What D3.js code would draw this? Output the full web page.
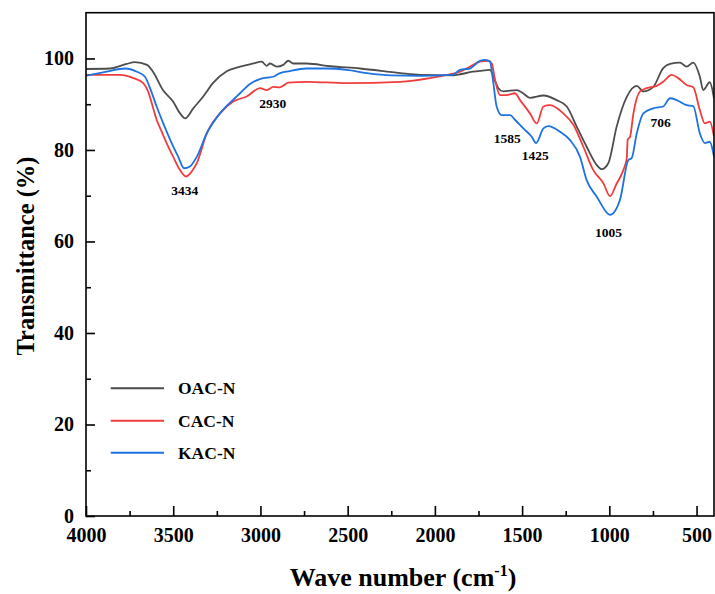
<!DOCTYPE html>
<html><head><meta charset="utf-8">
<script src="https://cdn.jsdelivr.net/npm/d3@7"></script>
<style>
html,body{margin:0;padding:0;background:#fff;}
svg{display:block;}
text{font-family:"Liberation Serif","Times New Roman",serif;font-weight:bold;fill:#000;}
</style></head>
<body><svg id="chart" width="715" height="594"></svg>
<script>
// ---------- data ----------
const seriesNames = ["OAC-N", "CAC-N", "KAC-N"];
const seriesColors = ["#4d4d4d", "#f23c3c", "#1c72e0"];

const oacWave = [4000,3862,3767,3720,3650,3616,3559,3501,3461,3432,3385,3328,3270,3193,3117,3043,2993,2964,2945,2907,2869,2840,2812,2735,2600,2429,2200,2085,1900,1875,1782,1741,1684,1665,1636,1608,1531,1495,1455,1378,1302,1244,1187,1130,1072,1044,1006,958,900,843,805,748,691,652,595,557,519,481,462,424,400];
const oacT    = [97.7,97.8,98.8,99.2,98.6,97.1,93.1,90.6,88.0,86.9,89.1,91.7,94.7,97.2,98.2,98.9,99.3,98.4,98.9,98.2,98.6,99.5,98.9,98.9,98.3,97.8,96.8,96.4,96.3,96.4,97.1,97.3,97.5,96.0,93.5,92.8,93.1,92.4,91.4,91.9,90.9,89.5,85.1,80.7,76.7,75.8,77.1,85.1,91.6,94.0,92.8,93.8,97.9,98.8,99.1,98.2,99.1,96.0,93.1,94.8,91.3];

const cacWave = [4000,3805,3729,3672,3643,3623,3595,3566,3528,3500,3461,3427,3394,3365,3308,3232,3156,3079,3003,2964,2926,2888,2840,2735,2506,2200,2028,1932,1856,1799,1741,1694,1674,1655,1627,1588,1541,1512,1455,1416,1378,1340,1264,1206,1149,1092,1034,996,960,920,900,895,881,862,824,786,729,691,643,605,557,519,481,452,424,400];
const cacT    = [96.4,96.4,95.7,94.6,92.7,90.2,86.6,84.0,80.7,78.5,75.6,74.2,75.3,77.1,83.6,88.0,90.6,91.7,93.5,93.1,93.8,93.7,94.7,94.9,94.6,94.9,95.7,96.4,97.1,98.2,99.3,99.5,98.9,95.3,92.0,92.0,92.4,90.9,88.0,85.8,89.5,89.8,88.0,85.5,80.7,75.6,72.7,69.9,72.5,75.6,78.2,82.2,82.9,88.0,92.8,93.5,94.0,94.9,96.4,95.7,94.2,93.7,88.7,85.8,86.2,82.9];

const kacWave = [4000,3881,3776,3709,3662,3633,3595,3557,3509,3471,3438,3404,3365,3308,3232,3136,3117,3060,3003,2964,2926,2888,2840,2735,2620,2506,2390,2250,2085,1900,1856,1800,1741,1713,1684,1665,1646,1617,1569,1541,1493,1445,1420,1378,1350,1283,1226,1168,1130,1072,996,939,891,872,843,805,748,691,652,614,557,519,481,452,424,400];
const kacT    = [96.2,97.1,97.8,97.1,96.0,93.5,89.5,85.8,81.5,78.5,76.0,76.4,78.5,83.6,88.0,91.7,92.4,94.4,95.5,95.8,96.0,96.8,97.2,97.8,97.8,97.5,96.8,96.3,96.2,96.4,97.5,97.8,99.5,99.7,99.3,94.6,89.5,87.6,87.6,86.6,84.7,82.9,81.5,84.7,85.2,84.0,82.2,78.5,73.4,69.8,65.8,69.1,77.8,78.2,83.6,88.0,89.1,89.5,91.3,90.9,89.8,89.6,83.6,81.5,81.8,78.5];

const xMajorTicks = [4000,3500,3000,2500,2000,1500,1000,500];
const xMinorTicks = [3750,3250,2750,2250,1750,1250,750];
const yMajorTicks = [0,20,40,60,80,100];
const yMinorTicks = [10,30,50,70,90];

const peakLabels = ["3434","2930","1585","1425","1005","706"];
const peakWave   = [3434,2930,1585,1425,1005,706];
const peakT      = [70.2,89.2,81.5,77.8,61.0,85.0];

// ---------- drawing ----------
const svg = d3.select("#chart");
const x = d3.scaleLinear().domain([4000, 400]).range([86, 714]);
const y = d3.scaleLinear().domain([0, 110]).range([516, 12.7]);

const series = [
  {name: seriesNames[0], color: seriesColors[0], pts: oacWave.map((w,i)=>[w, oacT[i]])},
  {name: seriesNames[1], color: seriesColors[1], pts: cacWave.map((w,i)=>[w, cacT[i]])},
  {name: seriesNames[2], color: seriesColors[2], pts: kacWave.map((w,i)=>[w, kacT[i]])}
];

const line = d3.line().x(d=>x(d[0])).y(d=>y(d[1])).curve(d3.curveMonotoneX);

svg.append("clipPath").attr("id","clip").append("rect")
  .attr("x",86).attr("y",12.7).attr("width",628).attr("height",503.3);

const g = svg.append("g").attr("clip-path","url(#clip)");
series.forEach(s=>{
  g.append("path").datum(s.pts).attr("d", line)
    .attr("fill","none").attr("stroke", s.color).attr("stroke-width",1.8)
    .attr("stroke-linejoin","round");
});

// frame
svg.append("rect").attr("x",86).attr("y",12.7).attr("width",628).attr("height",503.3)
  .attr("fill","none").attr("stroke","#000").attr("stroke-width",1.6);

// x axis
const xAxis = d3.axisBottom(x).tickValues(xMajorTicks).tickSizeInner(-10).tickSizeOuter(0).tickPadding(12).tickFormat(d3.format("d"));
const xa = svg.append("g").attr("transform","translate(0,516)").call(xAxis);
xa.select(".domain").remove();
xa.selectAll(".tick line").attr("stroke","#000").attr("stroke-width",1.6);
xa.selectAll(".tick text").style("font-size","20px").style("font-family","Liberation Serif, serif").style("font-weight","bold");
const xm = d3.axisBottom(x).tickValues(xMinorTicks).tickSizeInner(-5).tickSizeOuter(0).tickFormat("");
const xma = svg.append("g").attr("transform","translate(0,516)").call(xm);
xma.select(".domain").remove();
xma.selectAll(".tick line").attr("stroke","#000").attr("stroke-width",1.6);

// y axis
const yAxis = d3.axisLeft(y).tickValues(yMajorTicks).tickSizeInner(-9).tickSizeOuter(0).tickPadding(12).tickFormat(d3.format("d"));
const ya = svg.append("g").attr("transform","translate(86,0)").call(yAxis);
ya.select(".domain").remove();
ya.selectAll(".tick line").attr("stroke","#000").attr("stroke-width",1.6);
ya.selectAll(".tick text").style("font-size","20px").style("font-family","Liberation Serif, serif").style("font-weight","bold");
const ym = d3.axisLeft(y).tickValues(yMinorTicks).tickSizeInner(-5).tickSizeOuter(0).tickFormat("");
const yma = svg.append("g").attr("transform","translate(86,0)").call(ym);
yma.select(".domain").remove();
yma.selectAll(".tick line").attr("stroke","#000").attr("stroke-width",1.6);

// axis titles
const xt = svg.append("text").attr("x",403).attr("y",586).attr("text-anchor","middle").style("font-size","26px");
xt.append("tspan").text("Wave number (cm");
xt.append("tspan").text("-1").attr("dy",-10).style("font-size","16px");
xt.append("tspan").text(")").attr("dy",10);

svg.append("text").attr("transform","translate(34,256) rotate(-90)").attr("text-anchor","middle")
  .style("font-size","24.5px").text("Transmittance (%)");

// peak labels
peakLabels.forEach((t,i)=>{
  svg.append("text").attr("x", x(peakWave[i])).attr("y", y(peakT[i]))
    .attr("text-anchor","middle").style("font-size","13.5px").text(t);
});

// legend
const legY = [388.3, 420.7, 452.7];
series.forEach((s,i)=>{
  svg.append("line").attr("x1",110.7).attr("x2",164).attr("y1",legY[i]).attr("y2",legY[i])
    .attr("stroke", s.color).attr("stroke-width",2);
  svg.append("text").attr("x",178).attr("y",legY[i]+6).style("font-size","17.5px").text(s.name);
});
</script></body></html>
